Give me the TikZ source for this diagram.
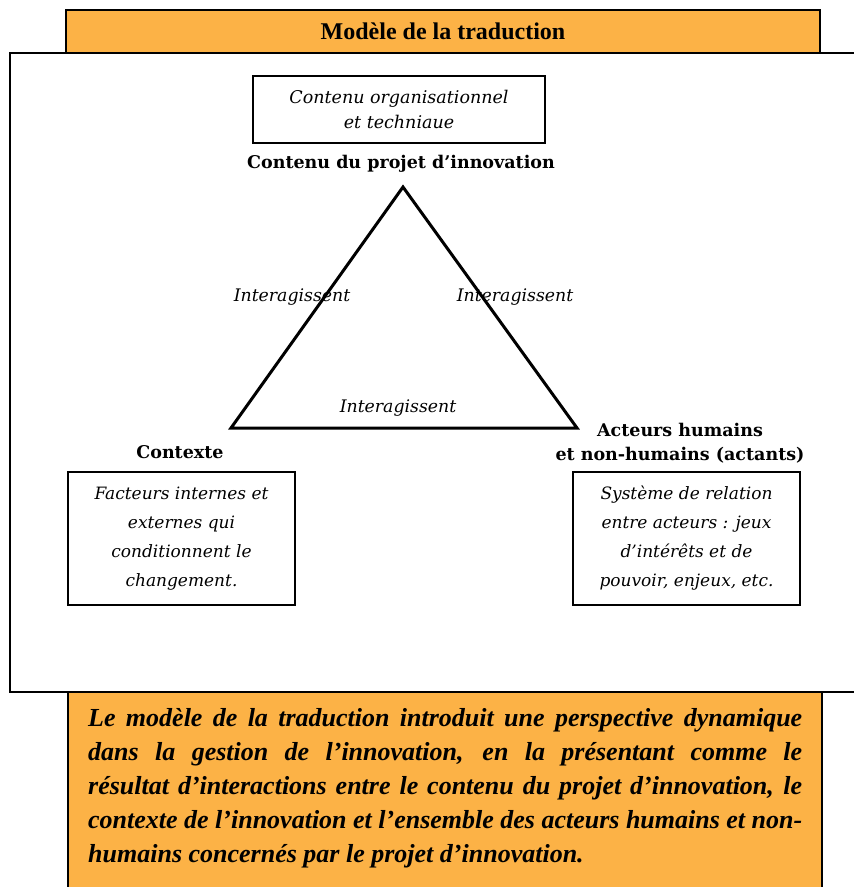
\documentclass[tikz,border=0pt]{standalone}
\usepackage{fontspec}
\setmainfont{DejaVu Serif}
\newfontfamily\condfont{Liberation Serif}
\usetikzlibrary{positioning}
\definecolor{bannerorange}{RGB}{252,178,70}

\begin{document}
\begin{tikzpicture}[x=1pt,y=-1pt,
  infobox/.style={draw,line width=1.5pt,align=center,inner sep=0pt,font=\fontsize{17}{29}\selectfont\itshape},
  headlbl/.style={align=center,font=\fontsize{17.5}{24}\selectfont\bfseries},
  interlbl/.style={font=\fontsize{17.3}{20}\selectfont\itshape}]
  \useasboundingbox (0,0) rectangle (854,887);

  % Outer frame and bottom summary panel
  \fill[bannerorange] (68,692) rectangle (822,890);
  \draw[line width=1.5pt] (68,890) -- (68,692) (822,692) -- (822,890);
  \draw[line width=1.5pt] (856,53) -- (10,53) -- (10,692) -- (856,692);

  % Banner
  \node[draw,line width=1.5pt,fill=bannerorange,minimum width=754pt,minimum height=43pt,
        font=\condfont\fontsize{24}{26}\selectfont\bfseries] (banner) at (443,31.5) {Modèle de la traduction};

  % Top pole
  \node[infobox,minimum width=292pt,minimum height=67pt,font=\fontsize{17.5}{25}\selectfont\itshape] (orgbox) at (399,109.5) {Contenu organisationnel\\et techniaue};
  \node[headlbl] (contenu) at (401,164) {Contenu du projet d’innovation};

  % Triangle
  \coordinate (top) at (403,187);
  \coordinate (bl) at (231,428);
  \coordinate (br) at (577,428);
  \draw[line width=3pt,line join=miter] (top) -- (bl) -- (br) -- cycle;
  \node[interlbl] (interL) at (292,297) {Interagissent};
  \node[interlbl] (interR) at (515,297) {Interagissent};
  \node[interlbl] (interB) at (398,408) {Interagissent};

  % Left pole
  \node[headlbl] (contexte) at (180,452) {Contexte};
  \node[infobox,minimum width=227pt,minimum height=133pt] (ctxbox) at (181.5,538.5)
    {Facteurs internes et\\externes qui\\conditionnent le\\changement.};

  % Right pole
  \node[headlbl] (acteurs) at (680,443) {Acteurs humains\\et non-humains (actants)};
  \node[infobox,minimum width=227pt,minimum height=133pt] (actbox) at (686.5,538.5)
    {Système de relation\\entre acteurs : jeux\\d’intérêts et de\\pouvoir, enjeux, etc.};

  % Summary text
  \node[anchor=north west,text width=714pt,align=justify,inner sep=0pt,
        font=\condfont\fontsize{26}{34}\selectfont\bfseries\itshape] (summary) at (88,708)
    {Le modèle de la traduction introduit une perspective dynamique\linebreak
     dans la gestion de l’innovation, en la présentant comme le\linebreak
     résultat d’interactions entre le contenu du projet d’innovation, le\linebreak
     contexte de l’innovation et l’ensemble des acteurs humains et non-\linebreak
     humains concernés par le projet d’innovation.};
\end{tikzpicture}
\end{document}
